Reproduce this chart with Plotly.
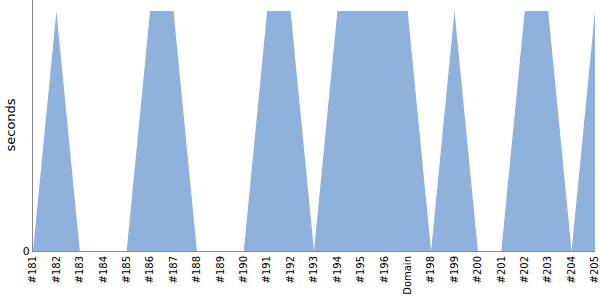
import plotly.graph_objects as go

builds = ["#181", "#182", "#183", "#184", "#185", "#186", "#187", "#188", "#189",
          "#190", "#191", "#192", "#193", "#194", "#195", "#196", "Domain", "#198",
          "#199", "#200", "#201", "#202", "#203", "#204", "#205"]
seconds = [0, 1, 0, 0, 0, 1, 1, 0, 0, 0, 1, 1, 0, 1, 1, 1, 1, 0, 1, 0, 0, 1, 1, 0, 1]

fig = go.Figure()
fig.add_trace(go.Scatter(
    x=builds, y=seconds, mode="lines", fill="tozeroy",
    line=dict(width=0, color="#8fb1db"), fillcolor="#8fb1db",
    hoverinfo="skip", showlegend=False,
))
fig.update_layout(
    width=600, height=300,
    margin=dict(l=33, r=5, t=0, b=49),
    paper_bgcolor="white", plot_bgcolor="white",
    font=dict(family="DejaVu Sans", size=11, color="#000"),
    annotations=[dict(
        text="seconds", textangle=-90, showarrow=False,
        xref="paper", yref="paper", x=0, y=0.5, xanchor="center", yanchor="middle",
        xshift=-23, font=dict(size=13),
    )],
)
fig.update_xaxes(
    type="category", range=[0, len(builds) - 1],
    showgrid=False, zeroline=False, showline=True, linecolor="#888", linewidth=1,
    tickangle=-90, ticks="", tickfont=dict(size=10),
)
fig.update_yaxes(
    range=[0, 251 / 240], tickvals=[0], ticktext=["0"],
    showgrid=False, zeroline=False, showline=True, linecolor="#888", linewidth=1,
    ticks="", tickfont=dict(size=11),
)
fig.write_html("out.html")
